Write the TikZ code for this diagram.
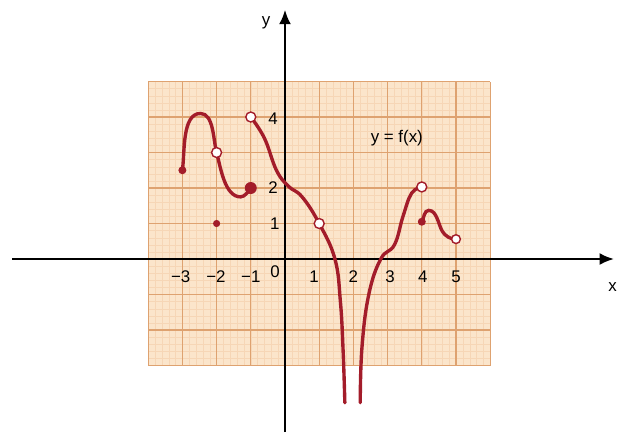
\documentclass[tikz,border=0pt]{standalone}
\usepackage{fontspec}
\setmainfont{Liberation Sans}
\usepackage{xcolor}
\usetikzlibrary{arrows.meta}
\definecolor{paper}{RGB}{251,229,203}
\definecolor{fineln}{RGB}{246,214,182}
\definecolor{mainln}{RGB}{222,162,112}
\definecolor{curvered}{RGB}{163,28,42}
\begin{document}
\begin{tikzpicture}[x=0.855cm, y=0.8875cm,
    ax/.style={line width=1.6pt, -{Latex[length=3.6mm,width=3mm]}},
    crv/.style={line width=2.4pt, color=curvered, line cap=round},
    fdot/.style={circle, fill=curvered, inner sep=0pt, minimum size=2mm},
    odot/.style={circle, draw=curvered, fill=white, line width=1pt, inner sep=0pt, minimum size=2.5mm},
    lbl/.style={font=\large, inner sep=1pt}
  ]
  \useasboundingbox (-8.333,-4.873) rectangle (9.766,7.296);

  % graph paper
  \fill[paper] (-4,-3) rectangle (6,5);
  \draw[fineln, line width=0.25pt, step=0.2] (-4,-3) grid (6,5);
  \draw[mainln, line width=0.9pt, step=1] (-4,-3) grid (6,5);

  % axes
  \coordinate (xl) at (-7.98,0);
  \coordinate (xr) at (9.62,0);
  \coordinate (yb) at (0,-4.873);
  \coordinate (yt) at (0,7.02);
  \draw[ax] (xl) -- (xr);
  \draw[ax] (yb) -- (yt);
  \node[lbl] (xlab) at (9.58,-0.8) {x};
  \node[lbl] (ylab) at (-0.55,6.65) {y};

  % tick labels
  \node[lbl] (m3) at (-3.05,-0.5) {−3};
  \node[lbl] (m2) at (-2.02,-0.5) {−2};
  \node[lbl] (m1) at (-1.0,-0.5) {−1};
  \node[lbl] (o)  at (-0.29,-0.37) {0};
  \node[lbl] (p1) at (0.85,-0.5) {1};
  \node[lbl] (p2) at (2.0,-0.5) {2};
  \node[lbl] (p3) at (3.07,-0.5) {3};
  \node[lbl] (p4) at (4.03,-0.5) {4};
  \node[lbl] (p5) at (5.0,-0.5) {5};
  \node[lbl] (q4) at (-0.35,3.95) {4};
  \node[lbl] (q2) at (-0.35,2.0) {2};
  \node[lbl] (q1) at (-0.3,1.0) {1};
  \node[lbl] (fx) at (3.27,3.4) {y = f(x)};

  % the curve, piece by piece
  \draw[crv, looseness=0.8] (-3,2.5) to[out=82,in=180] (-2.47,4.1) to[out=0,in=105] (-2,3)
    to[out=-75,in=180] (-1.3,1.75) to[out=0,in=-125] (-1,2);
  \draw[crv] plot[smooth, tension=0.7] coordinates {(-1,4) (-0.6,3.4) (-0.25,2.5)
    (0.1,2.05) (0.5,1.75) (1,1) (1.46,0) (1.62,-1.2) (1.7,-2.6) (1.75,-4.05)};
  \draw[crv] plot[smooth, tension=0.7] coordinates {(2.2,-4.05) (2.25,-2.5) (2.45,-1)
    (2.8,0) (3.2,0.4) (3.45,1.2) (3.7,1.85) (4,2.03)};
  \draw[crv, looseness=0.85] (4,1.05) to[out=60,in=180] (4.2,1.37) to[out=0,in=120] (4.6,0.78)
    to[out=-60,in=185] (5,0.56);

  % end points
  \node[fdot] (a1) at (-3,2.5) {};
  \node[fdot, minimum size=3mm] (a2) at (-1,2) {};
  \node[fdot, minimum size=1.8mm] (a3) at (-2,1) {};
  \node[fdot] (a4) at (4,1.05) {};
  \node[odot] (b1) at (-2,3) {};
  \node[odot] (b2) at (-1,4) {};
  \node[odot] (b3) at (1,1) {};
  \node[odot] (b4) at (4,2.03) {};
  \node[odot, minimum size=2.2mm] (b5) at (5,0.56) {};
\end{tikzpicture}
\end{document}
